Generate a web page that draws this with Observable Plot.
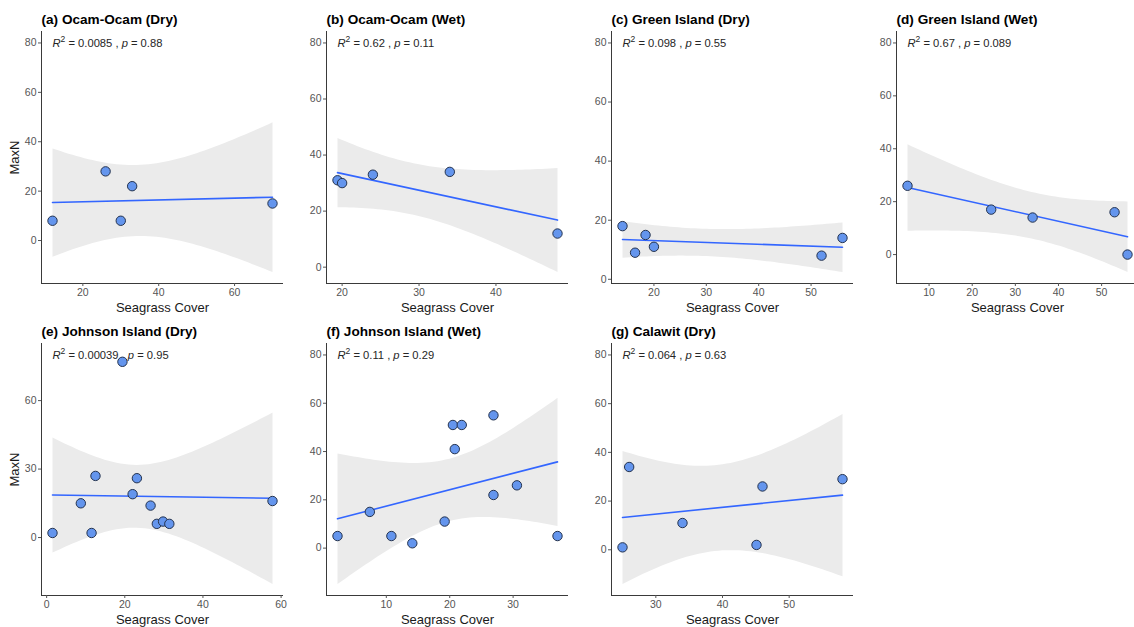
<!DOCTYPE html>
<html><head><meta charset="utf-8">
<script src="https://cdn.jsdelivr.net/npm/d3@7"></script>
<script src="https://cdn.jsdelivr.net/npm/@observablehq/plot@0.6"></script>
<style>
html,body{margin:0;padding:0;background:#fff;}
#chart{position:relative;width:1134px;height:627px;overflow:hidden;font-family:"Liberation Sans",Arial,sans-serif;}
#chart svg{position:absolute;overflow:visible;background:transparent;}
</style></head><body><div id="chart"></div>
<script>
// ---- data ----
const panelTitles = ["(a) Ocam-Ocam (Dry)", "(b) Ocam-Ocam (Wet)", "(c) Green Island (Dry)", "(d) Green Island (Wet)",
                     "(e) Johnson Island (Dry)", "(f) Johnson Island (Wet)", "(g) Calawit (Dry)"];
const coverA = [12, 26, 33, 30, 70];
const maxnA  = [8, 28, 22, 8, 15];
const coverB = [19.4, 20, 24, 34, 48];
const maxnB  = [31, 30, 33, 34, 12];
const coverC = [14, 16.4, 18.4, 20, 52, 56];
const maxnC  = [18, 9, 15, 11, 8, 14];
const coverD = [5, 24.4, 34, 53, 56];
const maxnD  = [26, 17, 14, 16, 0];
const coverE = [1.5, 8.75, 11.5, 12.5, 19.4, 22, 23.1, 26.6, 28.2, 29.8, 31.4, 57.8];
const maxnE  = [2, 15, 2, 27, 77, 19, 26, 14, 6, 7, 6, 16];
const coverF = [2.3, 7.4, 10.8, 14.1, 19.2, 20.5, 21.9, 20.8, 26.9, 26.9, 30.6, 37.0];
const maxnF  = [5, 15, 5, 2, 11, 51, 51, 41, 55, 22, 26, 5];
const coverG = [25, 26, 34, 45.1, 46, 58];
const maxnG  = [1, 34, 11, 2, 26, 29];
const r2Labels = ["0.0085", "0.62", "0.098", "0.67", "0.00039", "0.11", "0.064"];
const pLabels  = ["0.88", "0.11", "0.55", "0.089", "0.95", "0.29", "0.63"];
const xTickValues = [[20, 40, 60], [20, 30, 40], [20, 30, 40, 50], [10, 20, 30, 40, 50], [0, 20, 40, 60], [10, 20, 30], [30, 40, 50]];
const yTickValues = [[0, 20, 40, 60, 80], [0, 20, 40, 60, 80], [0, 20, 40, 60, 80], [0, 20, 40, 60, 80], [0, 30, 60], [0, 20, 40, 60, 80], [0, 20, 40, 60, 80]];
const xTitle = "Seagrass Cover";
const yTitle = "MaxN";
const statLabelY = 80;

const covers = [coverA, coverB, coverC, coverD, coverE, coverF, coverG];
const maxns  = [maxnA, maxnB, maxnC, maxnD, maxnE, maxnF, maxnG];

// ---- stats helpers (for scale domains matching the 95% band) ----
function lgamma(x) {
  const c = [76.18009172947146, -86.50532032941677, 24.01409824083091, -1.231739572450155, 0.1208650973866179e-2, -0.5395239384953e-5];
  let y = x, tmp = x + 5.5;
  tmp -= (x + 0.5) * Math.log(tmp);
  let ser = 1.000000000190015;
  for (const ci of c) ser += ci / ++y;
  return -tmp + Math.log(2.5066282746310005 * ser / x);
}
function tpdf(t, v) {
  return Math.exp(lgamma((v + 1) / 2) - lgamma(v / 2) - 0.5 * Math.log(v * Math.PI) - (v + 1) / 2 * Math.log(1 + t * t / v));
}
function tcdf(t, v) {
  const n = 2000, h = t / n;
  let s = tpdf(0, v) + tpdf(t, v);
  for (let k = 1; k < n; k++) s += (k % 2 ? 4 : 2) * tpdf(k * h, v);
  return 0.5 + s * h / 3;
}
function qt(p, v) {
  let lo = 0, hi = 100;
  for (let i = 0; i < 50; i++) { const m = (lo + hi) / 2; if (tcdf(m, v) < p) lo = m; else hi = m; }
  return (lo + hi) / 2;
}
function bandExtent(xs, ys) {
  const n = xs.length, mx = d3.mean(xs), my = d3.mean(ys);
  let sxx = 0, sxy = 0, syy = 0;
  for (let i = 0; i < n; i++) { sxx += (xs[i] - mx) ** 2; sxy += (xs[i] - mx) * (ys[i] - my); syy += (ys[i] - my) ** 2; }
  const b = sxy / sxx, a = my - b * mx;
  const s = Math.sqrt((syy - b * sxy) / (n - 2));
  const t = qt(0.975, n - 2);
  let lo = Infinity, hi = -Infinity;
  for (const x of d3.extent(xs)) {
    const yh = a + b * x, se = s * Math.sqrt(1 / n + (x - mx) ** 2 / sxx);
    lo = Math.min(lo, yh - t * se); hi = Math.max(hi, yh + t * se);
  }
  return [lo, hi];
}

const font = '"Liberation Sans", Arial, sans-serif';
const colLeft = [0, 284.7, 570, 855.3];
const rowTop = [0.7, 313.3];
const chart = document.getElementById("chart");
const ns = "http://www.w3.org/2000/svg";

panelTitles.forEach((title, i) => {
  const xs = covers[i], ys = maxns[i];
  const data = xs.map((x, k) => ({cover: x, maxn: ys[k]}));
  const [bl, bh] = bandExtent(xs, ys);
  const ylo = Math.min(bl, d3.min(ys)), yhi = Math.max(bh, d3.max(ys), statLabelY);
  const ypad = 0.05 * (yhi - ylo);
  const [xlo, xhi] = d3.extent(xs);
  const xpad = 0.05 * (xhi - xlo);
  const xd = [xlo - xpad, xhi + xpad], yd = [ylo - ypad, yhi + ypad];
  const col = i % 4, row = Math.floor(i / 4);
  const statText = `R2 = ${r2Labels[i]} , p = ${pLabels[i]}`;

  const marks = [
    Plot.linearRegressionY(data, {x: "cover", y: "maxn", ci: 0.95, stroke: "#3366FF", strokeWidth: 1.6, fill: "#ebebeb", fillOpacity: 1}),
    Plot.ruleX([xd[0]], {stroke: "#3a3a3a", strokeWidth: 1}),
    Plot.ruleY([yd[0]], {stroke: "#3a3a3a", strokeWidth: 1}),
    Plot.axisX(xTickValues[i], {tickSize: 3, tickPadding: 2, color: "#555", fontSize: 10.5, label: null}),
    Plot.axisY(yTickValues[i], {tickSize: 3, tickPadding: 2, color: "#555", fontSize: 10.5, label: null}),
    Plot.text([statText], {x: xlo, y: statLabelY, textAnchor: "start", lineAnchor: "middle", fontSize: 11.2, fill: "#262626"}),
    Plot.dot(data, {x: "cover", y: "maxn", r: 4.7, fill: "#6495ED", stroke: "#24334f", strokeWidth: 1}),
    Plot.text([title], {frameAnchor: "top-left", dy: -12, textAnchor: "start", lineAnchor: "middle", fontSize: 13.6, fontWeight: "bold", fill: "#000"}),
    Plot.text([xTitle], {frameAnchor: "bottom", dy: 24, textAnchor: "middle", lineAnchor: "middle", fontSize: 13, fill: "#1a1a1a"})
  ];
  if (col === 0) marks.push(Plot.text([yTitle], {frameAnchor: "left", dx: -27, rotate: -90, textAnchor: "middle", lineAnchor: "middle", fontSize: 13, fill: "#1a1a1a"}));

  const svg = Plot.plot({
    width: 287, height: 318,
    marginLeft: 41, marginRight: 4, marginTop: 30, marginBottom: 36,
    x: {domain: xd}, y: {domain: yd},
    style: {fontFamily: font, background: "transparent", overflow: "visible"},
    marks
  });
  svg.style.left = colLeft[col] + "px";
  svg.style.top = rowTop[row] + "px";

  // rich text: italic R and p, superscript 2
  svg.querySelectorAll("text").forEach((t) => {
    if (t.textContent !== statText) return;
    while (t.firstChild) t.removeChild(t.firstChild);
    const add = (str, opts = {}) => {
      const ts = document.createElementNS(ns, "tspan");
      ts.textContent = str;
      if (opts.italic) ts.setAttribute("font-style", "italic");
      if (opts.size) ts.setAttribute("font-size", opts.size);
      if (opts.dy) ts.setAttribute("dy", opts.dy);
      t.appendChild(ts);
    };
    add("R", {italic: true});
    add("2", {size: 8.5, dy: -5});
    add(` = ${r2Labels[i]} , `, {dy: 5});
    add("p", {italic: true});
    add(` = ${pLabels[i]}`);
  });
  chart.appendChild(svg);
});
</script></body></html>
